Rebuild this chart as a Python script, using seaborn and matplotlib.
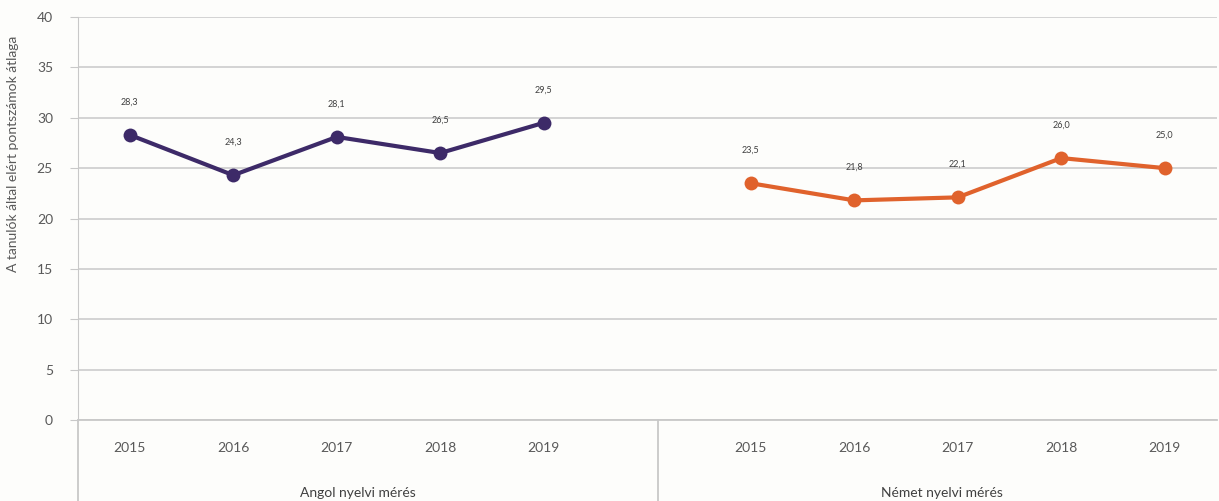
import pandas as pd
import matplotlib.pyplot as plt
import matplotlib.transforms as mtransforms
import seaborn as sns

years = ["2015", "2016", "2017", "2018", "2019"]
angol = [28.3, 24.3, 28.1, 26.5, 29.5]
nemet = [23.5, 21.8, 22.1, 26.0, 25.0]
groups = ["Angol nyelvi mérés", "Német nyelvi mérés"]
ylabel = "A tanulók által elért pontszámok átlaga"

sns.set_style("white")
plt.rcParams['font.family'] = ['Lato', 'DejaVu Sans']

# category slots: 0-4 english, 5 empty, 6-10 german
df = pd.DataFrame({
    "pos": list(range(0, 5)) + list(range(6, 11)),
    "year": years + years,
    "score": angol + nemet,
    "group": [groups[0]] * 5 + [groups[1]] * 5,
})

fig = plt.figure(figsize=(12.19, 5.01), dpi=100)
fig.patch.set_facecolor("#fdfdfb")
ax = fig.add_axes([0.064, 0.1617, 0.934, 0.8043])
ax.set_facecolor("#fdfdfb")

colors = {groups[0]: "#3d2a68", groups[1]: "#e0622c"}
for g in groups:
    sub = df[df["group"] == g]
    sns.lineplot(data=sub, x="pos", y="score", color=colors[g], lw=3,
                 marker="o", markersize=10, markeredgewidth=0, ax=ax,
                 legend=False)
    for _, r in sub.iterrows():
        ax.text(r["pos"], r["score"] + 2.8, f"{r['score']:.1f}".replace(".", ","),
                ha="center", va="bottom", fontsize=6.5, color="#404040")

ax.set_ylim(0, 40)
ax.set_xlim(-0.5, 10.5)
ax.set_yticks(range(0, 41, 5))
ax.yaxis.grid(True, color="#d0d0d0", lw=1.3)
ax.set_axisbelow(True)
ax.tick_params(axis="y", length=6, color="#c8c8c8", labelsize=10,
               labelcolor="#595959", pad=12, left=True)
ax.set_xticks(df["pos"])
ax.set_xticklabels(df["year"])
ax.tick_params(axis="x", length=0, labelsize=10, labelcolor="#595959", pad=16)
ax.set_xlabel("")
ax.set_ylabel(ylabel, fontsize=10, color="#595959")
ax.yaxis.set_label_coords(-0.052, 0.66)

for s in ["top", "right"]:
    ax.spines[s].set_visible(False)
ax.spines["bottom"].set_color("#c8c8c8")
ax.spines["bottom"].set_linewidth(1.3)
ax.spines["left"].set_color("#c8c8c8")
ax.spines["left"].set_bounds(0, 40)

trans = mtransforms.blended_transform_factory(ax.transData, ax.transAxes)
# left axis extension and group divider below the plot
ax.plot([-0.5, -0.5], [0, -0.2], transform=trans, color="#c8c8c8", lw=1.3, clip_on=False)
ax.plot([5.1, 5.1], [0, -0.2], transform=trans, color="#c8c8c8", lw=1.3, clip_on=False)
ax.text(2.2, -0.18, groups[0], transform=trans, ha="center", va="center",
        fontsize=10, color="#404040")
ax.text(7.85, -0.18, groups[1], transform=trans, ha="center", va="center",
        fontsize=10, color="#404040")

plt.savefig("out.png", dpi=100, facecolor=fig.get_facecolor())
plt.close()
